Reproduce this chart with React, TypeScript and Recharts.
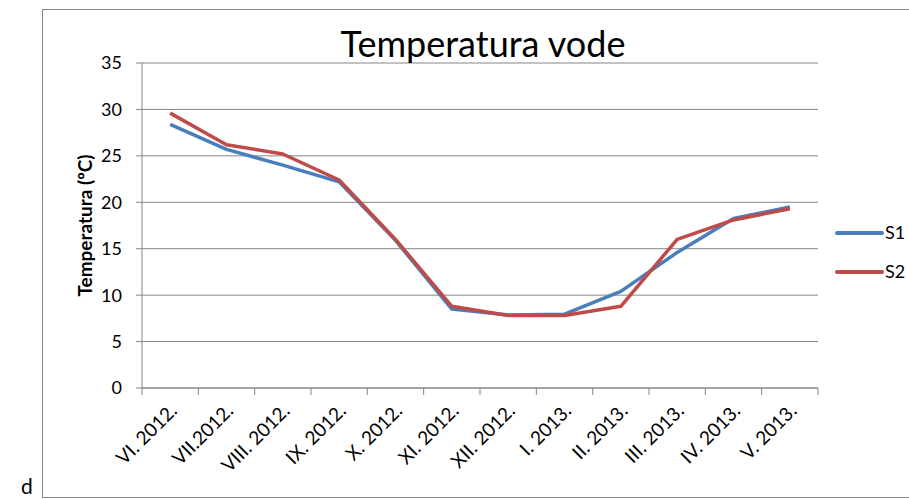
import React from 'react';
import { LineChart, Line, XAxis, YAxis, CartesianGrid, Legend } from 'recharts';

const categories = ['VI. 2012.', 'VII.2012.', 'VIII. 2012.', 'IX. 2012.', 'X. 2012.', 'XI. 2012.', 'XII. 2012.', 'I. 2013.', 'II. 2013.', 'III. 2013.', 'IV. 2013.', 'V. 2013.'];
const s1 = [28.4, 25.7, 24.0, 22.2, 15.9, 8.5, 7.85, 7.95, 10.4, 14.6, 18.25, 19.5];
const s2 = [29.6, 26.2, 25.2, 22.4, 16.0, 8.8, 7.8, 7.8, 8.8, 16.0, 18.1, 19.3];
const yTicks = [0, 5, 10, 15, 20, 25, 30, 35];
const seriesNames = ['S1', 'S2'];
const colors = ['#4A7EBB', '#BE4B48'];
const title = 'Temperatura vode';
const yLabel = 'Temperatura (ºC)';

const data = categories.map((c, i) => ({ x: i + 0.5, name: c, S1: s1[i], S2: s2[i] }));
const xTicks: number[] = [];
for (let i = 0; i <= categories.length * 2; i++) xTicks.push(i / 2);

const FONT = 'Lato, "Open Sans", sans-serif';
const GRAY = '#868686';

const XTick = (props: any) => {
  const { x, y, payload } = props;
  const v = payload.value as number;
  if (Number.isInteger(v)) {
    return <line x1={x} y1={y - 7} x2={x} y2={y} stroke={GRAY} strokeWidth={1} />;
  }
  const label = categories[Math.floor(v)];
  const ax = x + 8;
  const ay = y + 17;
  return (
    <text x={ax} y={ay} textAnchor="end" fill="#000" fontSize={19} transform={`rotate(-45, ${ax}, ${ay})`}>
      {label}
    </text>
  );
};

const LegendContent = (props: any) => {
  const { payload } = props;
  return (
    <svg width={79} height={70} style={{ display: 'block' }}>
      {(payload || []).map((p: any, i: number) => (
        <g key={i}>
          <line x1={7} y1={13 + i * 39} x2={52} y2={13 + i * 39} stroke={p.color} strokeWidth={4} strokeLinecap="round" />
          <text x={55} y={13 + i * 39} dy="0.35em" fontSize={18} fill="#000" fontFamily={FONT}>{p.value}</text>
        </g>
      ))}
    </svg>
  );
};

export default function App() {
  return (
    <div style={{ position: 'absolute', left: 0, top: 0, width: 909, height: 499, overflow: 'hidden', background: '#fff', fontFamily: FONT }}>
      <div style={{ position: 'absolute', left: 42, top: 9, width: 900, height: 487, border: `1px solid ${GRAY}` }} />
      <div style={{ position: 'absolute', left: 0, top: 0 }}>
        <LineChart width={909} height={499} data={data} margin={{ top: 63, right: 91, bottom: 31, left: 82 }}>
          <CartesianGrid vertical={false} stroke={GRAY} strokeWidth={1} />
          <XAxis
            dataKey="x"
            type="number"
            domain={[0, categories.length]}
            ticks={xTicks}
            interval={0}
            height={80}
            tickSize={7}
            tickMargin={0}
            tickLine={false}
            axisLine={{ stroke: GRAY, strokeWidth: 1 }}
            tick={<XTick />}
          />
          <YAxis
            type="number"
            domain={[0, 35]}
            ticks={yTicks}
            interval={0}
            width={60}
            tickSize={6}
            tickMargin={14}
            axisLine={{ stroke: GRAY, strokeWidth: 1 }}
            tickLine={{ stroke: GRAY, strokeWidth: 1 }}
            tick={{ fill: '#000', fontSize: 18 }}
            label={{ value: yLabel, angle: -90, position: 'insideLeft', offset: 3, style: { textAnchor: 'middle', fontWeight: 'bold', fontSize: 19, fill: '#000' } }}
          />
          <Legend layout="horizontal" verticalAlign="middle" align="center" wrapperStyle={{ left: 830, top: 220, width: 79, height: 70 }} content={<LegendContent />} />
          {seriesNames.map((s, i) => (
            <Line key={s} dataKey={s} name={s} type="linear" stroke={colors[i]} strokeWidth={3.5} strokeLinejoin="round" dot={false} isAnimationActive={false} />
          ))}
        </LineChart>
      </div>
      <svg width={909} height={499} style={{ position: 'absolute', left: 0, top: 0, pointerEvents: 'none' }}>
        <text x={483} y={57} textAnchor="middle" fontSize={36} fill="#000" fontFamily={FONT}>{title}</text>
        <text x={21} y={494} fontSize={21} fill="#000" fontFamily={FONT}>d</text>
      </svg>
    </div>
  );
}
